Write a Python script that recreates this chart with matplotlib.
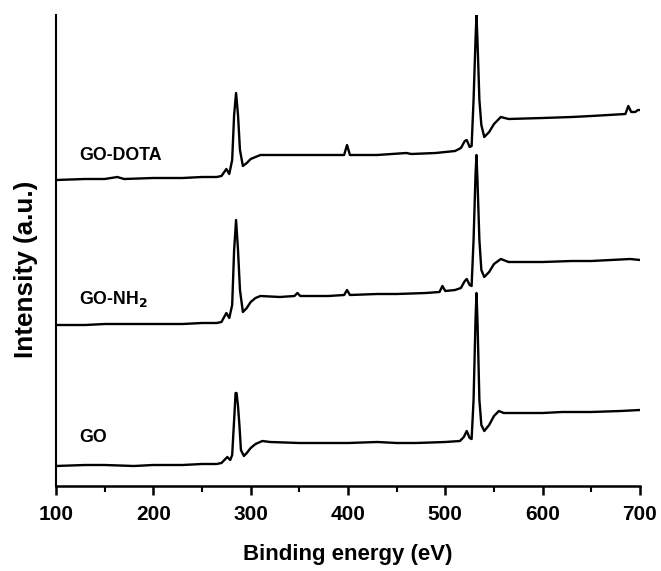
import matplotlib
matplotlib.use("Agg")
import matplotlib.pyplot as plt
from matplotlib.ticker import MultipleLocator

plt.rcParams['font.family'] = ['Liberation Sans', 'DejaVu Sans']

# Binding energy (eV) and intensity (a.u.)
go_x = [100, 130, 150, 180, 200, 230, 250, 265, 270, 273, 276, 279, 281, 283, 284.5, 285.5, 287, 288.5,
        290, 293, 296, 300, 305, 312, 320, 350, 380, 400, 430, 450, 470, 500, 515, 519, 522, 525, 527,
        529, 531, 532, 533, 535, 537, 540, 545, 550, 555, 560, 580, 600, 620, 650, 680, 700]
go_y = [20, 21, 21, 20, 21, 21, 22, 22, 23, 26, 29, 26, 31, 66, 93, 93, 80, 60,
        36, 30, 33, 38, 42, 45, 44, 43, 43, 43, 44, 43, 43, 44, 45, 49, 55, 48, 47,
        86, 166, 193, 166, 86, 61, 55, 61, 70, 75, 73, 73, 73, 74, 74, 75, 76]

nh2_x = [100, 130, 150, 180, 200, 230, 250, 265, 270, 275, 278, 281, 283, 285, 287, 289, 292, 296,
         300, 305, 310, 330, 345, 348, 351, 380, 396, 399, 402, 430, 450, 480, 494, 497, 500, 510,
         516, 520, 522, 525, 527, 529, 531, 532, 533, 535, 537, 540, 545, 550, 557, 565, 600, 630,
         650, 690, 700]
nh2_y = [161, 161, 162, 162, 162, 162, 163, 163, 164, 173, 168, 181, 236, 266, 236, 196, 174, 178,
         184, 188, 190, 189, 190, 193, 190, 190, 191, 196, 191, 192, 192, 193, 194, 200, 195, 196,
         198, 205, 207, 201, 200, 246, 311, 331, 306, 246, 216, 209, 214, 222, 227, 224, 224, 225,
         225, 227, 226]

dota_x = [100, 130, 150, 163, 170, 200, 230, 250, 265, 270, 275, 278, 281, 283, 285, 287, 289, 292,
          296, 300, 310, 330, 360, 380, 396, 399, 402, 430, 460, 465, 490, 510, 516, 520, 522, 525,
          527, 529, 531, 532, 533, 535, 537, 540, 545, 550, 557, 565, 600, 630, 650, 685, 688, 691,
          695, 698, 700]
dota_y = [306, 307, 307, 309, 307, 308, 308, 309, 309, 310, 317, 312, 326, 371, 393, 371, 336, 320,
          323, 327, 331, 331, 331, 331, 331, 341, 331, 331, 333, 332, 333, 335, 338, 345, 346, 339,
          340, 386, 446, 471, 446, 386, 361, 349, 354, 362, 369, 367, 368, 369, 370, 372, 380, 374,
          374, 376, 376]

labels = ["GO", "GO-NH$_\\mathbf{2}$", "GO-DOTA"]
label_x = [124, 124, 124]
label_y = [49, 187, 331]

fig = plt.figure(figsize=(6.61, 5.71), dpi=100)
ax = fig.add_axes([56 / 661, 1 - 486 / 571, (640 - 56) / 661, (486 - 15) / 571])

for xs, ys in [(go_x, go_y), (nh2_x, nh2_y), (dota_x, dota_y)]:
    ax.plot(xs, ys, color='black', linewidth=1.7)

for t, x, y in zip(labels, label_x, label_y):
    ax.text(x, y, t, fontsize=12.8, fontweight='bold', ha='left', va='center')

ax.set_xlim(100, 700)
ax.set_ylim(0, 471)
ax.xaxis.set_major_locator(MultipleLocator(100))
ax.xaxis.set_minor_locator(MultipleLocator(50))
ax.set_yticks([])
ax.spines['top'].set_visible(False)
ax.spines['right'].set_visible(False)
ax.spines['left'].set_linewidth(1.5)
ax.spines['bottom'].set_linewidth(1.8)
ax.tick_params(axis='x', which='major', length=6.5, width=1.8, labelsize=15, pad=7.5)
ax.tick_params(axis='x', which='minor', length=4, width=1.5)
for lab in ax.get_xticklabels():
    lab.set_fontweight('bold')
ax.set_xlabel("Binding energy (eV)", fontsize=16, fontweight='bold', labelpad=14)
ax.set_ylabel("Intensity (a.u.)", fontsize=18.8, fontweight='bold')
ax.yaxis.set_label_coords(-0.031, 0.459)

fig.savefig("out.png", dpi=100)
